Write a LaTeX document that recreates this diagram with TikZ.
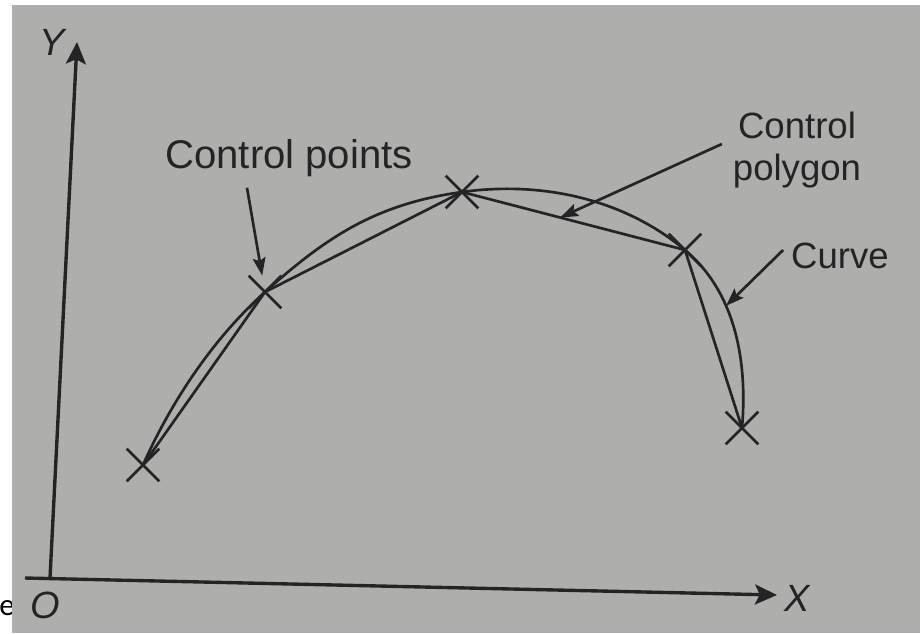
\documentclass[tikz,border=0pt]{standalone}
\usepackage{fontspec}
\setmainfont{Liberation Sans}
\newfontfamily\capfont{Carlito}
\usetikzlibrary{arrows.meta, calc, shapes.misc}
\definecolor{paper}{RGB}{174,174,172}
\definecolor{ink}{RGB}{36,36,36}
\tikzset{
  every node/.append style={font=\fontsize{26}{30}\selectfont, text=ink, inner sep=2pt},
  ctrlpt/.style={cross out, draw=ink, line width=1.9pt, minimum size=0.75cm, inner sep=0pt},
  lineink/.style={draw=ink, line width=1.9pt},
  pointer/.style={draw=ink, line width=1.9pt, -{Stealth[length=0.45cm, width=0.32cm, inset=0.08cm]}},
  axis/.style={draw=ink, line width=2.4pt, -{Stealth[length=0.55cm, width=0.5cm, inset=0.12cm]}},
  axislbl/.style={font=\fontsize{27}{30}\selectfont\itshape}
}

\begin{document}
\begin{tikzpicture}[x=0.025cm, y=-0.025cm]
    \useasboundingbox (0,0) rectangle (920,633);
    \fill[white] (0,0) rectangle (920,633);
    \node[anchor=base west, inner sep=0pt, text=black, font=\capfont\fontsize{22}{26}\selectfont] (cut) at (-1,615) {ec};
    \fill[paper] (12,5) rectangle (920,633);

    \coordinate (orig) at (50,578);
    \coordinate (xstart) at (25,578);
    \coordinate (xtip) at (777,595);
    \coordinate (ytip) at (77,42);
    \draw[axis] (xstart) -- (xtip);
    \draw[axis] (orig) -- (ytip);
    \node[axislbl] (xlbl) at (797,598) {X};
    \node[axislbl] (ylbl) at (52,42) {Y};
    \node[axislbl] (olbl) at (45,605) {O};

    \foreach \n/\px/\py in {0/143/465, 1/265/292, 2/462/192, 3/685/250, 4/742/428}
        \node[ctrlpt] (p\n) at (\px,\py) {};

    \draw[lineink] (p0.center) -- (p1.center) -- (p2.center) -- (p3.center) -- (p4.center);
    \draw[lineink] (p0.center) .. controls (171.5,401) and (213,338.8) .. (p1.center)
        .. controls (328.2,235.1) and (377.9,203.8) .. (p2.center)
        .. controls (541.2,180.9) and (623.7,198.6) .. (p3.center)
        .. controls (738.6,295) and (747.2,368.2) .. (p4.center) coordinate[pos=0.35] (oncurve);
    \coordinate (polymid) at ($(p2.center)!0.44!(p3.center)$);

    \node[font=\fontsize{28.5}{32}\selectfont] (lblpts) at (289,158) {Control points};
    \node[align=center] (lblpoly) at (797,150) {Control\\polygon};
    \node (lblcurve) at (840,256) {Curve};

    \draw[pointer] ([shift={(-42,8)}]lblpts.south) -- (p1);
    \draw[pointer] ([shift={(-8,-6)}]lblpoly.west) -- (polymid);
    \draw[pointer] ([shift={(-5,-6)}]lblcurve.west) -- (oncurve);
\end{tikzpicture}
\end{document}
